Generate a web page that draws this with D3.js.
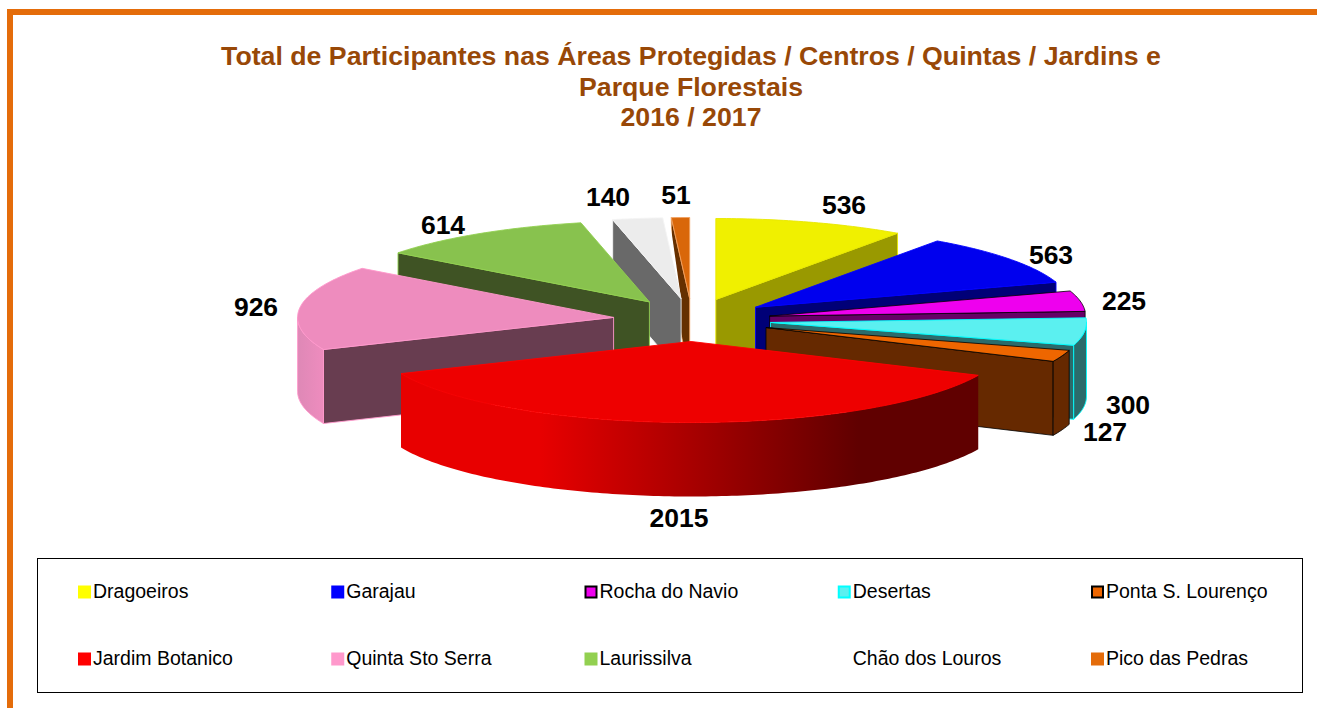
<!DOCTYPE html>
<html>
<head>
<meta charset="utf-8">
<script src="https://cdn.jsdelivr.net/npm/d3@7"></script>
<style>
html,body{margin:0;padding:0;background:#fff;overflow:hidden}
svg{display:block}
text{font-family:"Liberation Sans",Arial,sans-serif}
</style>
</head>
<body>
<svg id="c" width="1317" height="708"></svg>
<script>
// ---- data ----
const categories = ["Dragoeiros","Garajau","Rocha do Navio","Desertas","Ponta S. Lourenço","Jardim Botanico","Quinta Sto Serra","Laurissilva","Chão dos Louros","Pico das Pedras"];
const values = [536,563,225,300,127,2015,926,614,140,51];
const titleLines = ["Total de Participantes nas Áreas Protegidas / Centros / Quintas / Jardins e","Parque Florestais","2016 / 2017"];

// ---- styles ----
const topColors  = ["#f0f000","#0000ee","#ee00ee","#5bf0f0","#ee6600","#ee0000","#ee8cbe","#88c24e","#ececec","#d9670a"];
const sideColors = ["#999900","#000077","#660066","#2b6b6b","#662900","#ee0000","#683d50","#3f5324","#696969","#663000"];
const edgeColors = ["#e8e800","#0000ff","#000000","#00ffff","#000000","#ff0000","#ff99cc","#92d050","#f4f4f4","#f0a060"];
const swatchFill = ["#ffff00","#0000ff","#ee00ee","#5bf0f0","#ee6600","#ff0000","#ff99cc","#92d050","#ffffff","#e46c0a"];
const swatchEdge = ["#ffff00","#0000ff","#000000","#00ffff","#000000","#ff0000","#ff99cc","#92d050","#ffffff","#e46c0a"];
// painter's order: right-hand slices back to front, then left-hand slices, then the big front one
const paintOrder = [0,1,2,3,4,9,8,7,6,5];

// ---- layout ----
const W = 1317, H = 708;
const cx = 692, cy = 320, rx = 316, ry = 81, depth = 74, explodeX = 79, explodeY = 21.5;
const labelAnchors = [[844,214],[1051,264],[1124,310],[1128,414],[1105,441],[679,527],[256,316],[443,234],[608,206],[676,204]];

const svg = d3.select("#c");
const defs = svg.append("defs");

function grad(id, x1, x2, stops){
  const g = defs.append("linearGradient").attr("id",id).attr("gradientUnits","userSpaceOnUse")
    .attr("x1",x1).attr("x2",x2).attr("y1",0).attr("y2",0);
  stops.forEach(s=>g.append("stop").attr("offset",s[0]).attr("stop-color",s[1]));
}
grad("redWall",400,980,[[0,"#e80000"],[0.24,"#e80000"],[0.45,"#b50000"],[0.79,"#600000"],[1,"#600000"]]);
grad("pinkWall",297,323,[[0,"#de88b6"],[1,"#ee8cbe"]]);
const wallFill = {5:"url(#redWall)",6:"url(#pinkWall)"};

// frame
svg.append("path").attr("d",`M10,${H+5}V12H${W+5}`).attr("fill","none").attr("stroke","#e46c0a").attr("stroke-width",6);

// title
svg.append("g").selectAll("text").data(titleLines).join("text")
  .attr("x",691).attr("y",(d,i)=>[65,95.5,126][i]).attr("text-anchor","middle")
  .attr("font-size",26.7).attr("font-weight","bold").attr("fill","#984807").text(d=>d);

// pie geometry from d3.pie
const pie = d3.pie().value(d=>d).sort(null)(values);
const line = d3.line();
function slice(d){
  const mid = (d.startAngle+d.endAngle)/2;
  const ax = cx + explodeX*Math.sin(mid), ay = cy - explodeY*Math.cos(mid);
  const pt = (a,dz=0)=>[ax+rx*Math.sin(a), ay-ry*Math.cos(a)+dz];
  const arcPts = (a0,a1,dz=0)=>{
    const n = Math.max(2,Math.ceil((a1-a0)*60));
    return d3.range(n+1).map(i=>pt(a0+(a1-a0)*i/n,dz));
  };
  return {ax,ay,pt,arcPts,mid};
}

const g = svg.append("g");
const chaoGap = 1.24*Math.PI/180;
paintOrder.forEach(i=>{
  const d = pie[i], s = slice(d), a0=d.startAngle, a1=d.endAngle;
  const sl = g.append("g").attr("class","slice").attr("data-name",categories[i]);
  const side = sideColors[i], edge = edgeColors[i];
  const w = (i===2||i===4)?0.8:0.9;
  // visible cut face: the trailing one on the right half, the leading one on the left half
  if(i!==5){
    const a = s.mid<Math.PI ? a1 : a0;
    const p = s.pt(a);
    sl.append("path").attr("d",line([[s.ax,s.ay],p,[p[0],p[1]+depth],[s.ax,s.ay+depth]])+"Z")
      .attr("fill",side).attr("stroke",edge).attr("stroke-width",w).attr("stroke-linejoin","round");
  }
  // outer wall (front half only)
  const f0 = Math.max(a0,Math.PI/2), f1 = Math.min(a1,Math.PI*1.5);
  if(f1>f0){
    const pts = s.arcPts(f0,f1).concat(s.arcPts(f0,f1,depth).reverse());
    sl.append("path").attr("d",line(pts)+"Z").attr("fill",wallFill[i]||side)
      .attr("stroke",i===5?"none":edge).attr("stroke-width",w);
  }
  // thin white gap that separates the grey slice from the small orange one
  if(i===8){
    sl.append("path").attr("d",line([[s.ax,s.ay]].concat(s.arcPts(a1-0.002,a1+chaoGap)))+"Z").attr("fill","#fff");
  }
  // top face
  sl.append("path").attr("d",line([[s.ax,s.ay]].concat(s.arcPts(a0,a1)))+"Z")
    .attr("fill",topColors[i]).attr("stroke",edge).attr("stroke-width",w).attr("stroke-linejoin","round");
});

// data labels
svg.append("g").selectAll("text").data(values).join("text")
  .attr("x",(d,i)=>labelAnchors[i][0]).attr("y",(d,i)=>labelAnchors[i][1]).attr("text-anchor","middle")
  .attr("font-size",26.5).attr("font-weight","bold").attr("fill","#000").text(d=>d);

// legend
svg.append("rect").attr("x",37.5).attr("y",558.5).attr("width",1265).attr("height",134)
  .attr("fill","none").attr("stroke","#000").attr("stroke-width",1);
const legX = d3.scaleLinear().domain([0,4]).range([78,1091]);
const legY = d3.scaleLinear().domain([0,1]).range([585.5,652.5]);
const boxed = i=>swatchEdge[i]==="#000000"||i===3;
const leg = svg.append("g").selectAll("g").data(categories).join("g")
  .attr("transform",(d,i)=>`translate(${legX(i%5)},${legY(Math.floor(i/5))})`);
leg.append("rect").attr("x",(d,i)=>boxed(i)?1:0).attr("y",(d,i)=>boxed(i)?1:0)
  .attr("width",(d,i)=>boxed(i)?11:13).attr("height",(d,i)=>boxed(i)?11:13)
  .attr("fill",(d,i)=>swatchFill[i])
  .attr("stroke",(d,i)=>boxed(i)?swatchEdge[i]:"none").attr("stroke-width",2);
leg.append("text").attr("x",15).attr("y",12).attr("font-size",19.5).attr("fill","#000").text(d=>d);
</script>
</body>
</html>
